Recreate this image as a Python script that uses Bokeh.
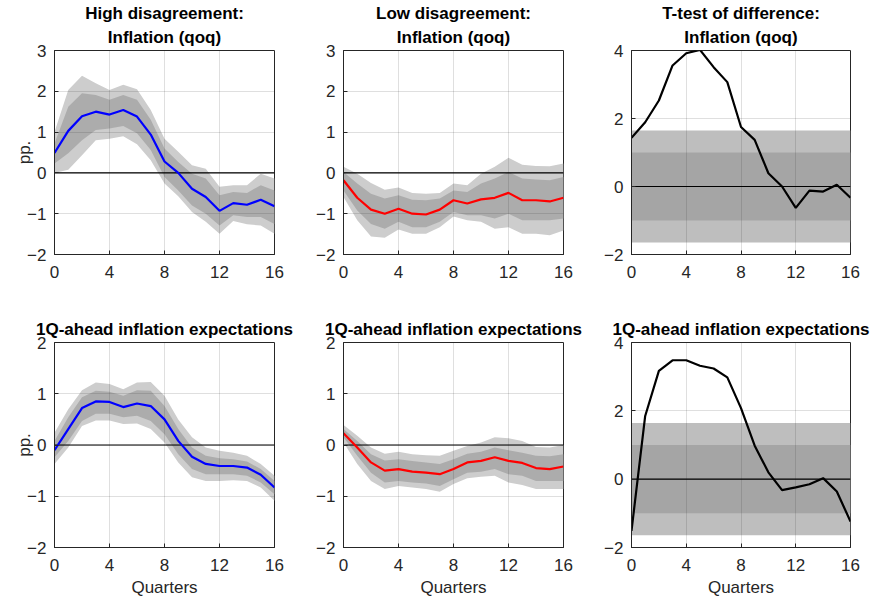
from bokeh.plotting import figure
from bokeh.layouts import column, row
from bokeh.models import Title, Span, BoxAnnotation, FixedTicker
from bokeh.embed import file_html
from bokeh.resources import INLINE

# horizon (quarters)
quarters = list(range(17))

# high disagreement: inflation (qoq)
hi_inf = [0.49, 1.03, 1.39, 1.50, 1.43, 1.54, 1.38, 0.94, 0.28, 0.00, -0.39, -0.59, -0.93, -0.74, -0.78, -0.66, -0.82]
hi_inf_o_up = [1.00, 2.03, 2.38, 2.20, 2.03, 2.16, 2.05, 1.54, 0.84, 0.52, 0.19, 0.10, -0.34, -0.30, -0.30, -0.02, -0.14]
hi_inf_i_up = [0.72, 1.62, 1.95, 1.91, 1.79, 1.91, 1.79, 1.30, 0.60, 0.27, -0.02, -0.14, -0.55, -0.47, -0.49, -0.30, -0.43]
hi_inf_i_lo = [0.23, 0.48, 0.80, 1.05, 1.09, 1.15, 0.97, 0.56, -0.10, -0.43, -0.80, -1.00, -1.29, -1.04, -1.08, -1.08, -1.25]
hi_inf_o_lo = [0.00, 0.08, 0.43, 0.80, 0.84, 0.90, 0.70, 0.31, -0.26, -0.57, -0.96, -1.20, -1.49, -1.18, -1.26, -1.29, -1.49]

# low disagreement: inflation (qoq)
lo_inf = [-0.18, -0.61, -0.90, -1.00, -0.88, -1.00, -1.02, -0.90, -0.67, -0.75, -0.65, -0.61, -0.49, -0.67, -0.67, -0.70, -0.61]
lo_inf_o_up = [0.15, -0.02, -0.25, -0.41, -0.36, -0.49, -0.51, -0.49, -0.26, -0.30, -0.02, 0.15, 0.37, 0.20, 0.17, 0.16, 0.23]
lo_inf_i_up = [0.02, -0.26, -0.51, -0.63, -0.55, -0.66, -0.67, -0.63, -0.43, -0.47, -0.26, -0.14, 0.02, -0.14, -0.16, -0.18, -0.10]
lo_inf_i_lo = [-0.43, -0.92, -1.25, -1.37, -1.20, -1.33, -1.33, -1.20, -0.96, -1.04, -1.04, -1.12, -1.00, -1.16, -1.16, -1.16, -1.12]
lo_inf_o_lo = [-0.59, -1.16, -1.56, -1.59, -1.39, -1.49, -1.49, -1.33, -1.07, -1.16, -1.20, -1.37, -1.33, -1.49, -1.49, -1.53, -1.41]

# t-test of difference: inflation
t_inf = [1.43, 1.89, 2.53, 3.56, 3.92, 4.02, 3.51, 3.07, 1.75, 1.37, 0.39, 0.00, -0.63, -0.12, -0.15, 0.05, -0.33]

# high disagreement: 1Q-ahead inflation expectations
hi_exp = [-0.10, 0.31, 0.72, 0.85, 0.84, 0.74, 0.81, 0.76, 0.50, 0.08, -0.23, -0.37, -0.41, -0.41, -0.44, -0.58, -0.83]
hi_exp_o_up = [0.24, 0.70, 1.07, 1.22, 1.19, 1.09, 1.22, 1.23, 0.96, 0.50, 0.15, -0.05, -0.11, -0.15, -0.21, -0.37, -0.60]
hi_exp_i_up = [0.08, 0.54, 0.93, 1.06, 1.04, 0.96, 1.07, 1.06, 0.76, 0.31, -0.05, -0.21, -0.26, -0.28, -0.32, -0.47, -0.70]
hi_exp_i_lo = [-0.24, 0.08, 0.47, 0.61, 0.61, 0.54, 0.57, 0.47, 0.21, -0.18, -0.47, -0.57, -0.57, -0.57, -0.60, -0.73, -0.96]
hi_exp_o_lo = [-0.37, -0.05, 0.37, 0.48, 0.48, 0.41, 0.42, 0.31, 0.05, -0.34, -0.63, -0.70, -0.70, -0.69, -0.70, -0.83, -1.09]

# low disagreement: 1Q-ahead inflation expectations
lo_exp = [0.23, -0.05, -0.34, -0.50, -0.47, -0.52, -0.54, -0.57, -0.47, -0.34, -0.31, -0.24, -0.31, -0.35, -0.45, -0.47, -0.42]
lo_exp_o_up = [0.39, 0.18, -0.05, -0.17, -0.13, -0.18, -0.20, -0.21, -0.11, -0.02, 0.05, 0.15, 0.13, 0.08, -0.04, -0.05, 0.00]
lo_exp_i_up = [0.31, 0.08, -0.18, -0.30, -0.28, -0.31, -0.34, -0.37, -0.28, -0.17, -0.13, -0.05, -0.10, -0.15, -0.21, -0.22, -0.18]
lo_exp_i_lo = [0.15, -0.21, -0.54, -0.73, -0.70, -0.73, -0.75, -0.80, -0.67, -0.54, -0.52, -0.47, -0.57, -0.60, -0.70, -0.70, -0.70]
lo_exp_o_lo = [0.05, -0.37, -0.70, -0.86, -0.80, -0.83, -0.86, -0.91, -0.76, -0.65, -0.62, -0.60, -0.73, -0.78, -0.86, -0.86, -0.86]

# t-test of difference: expectations
t_exp = [-1.51, 1.85, 3.17, 3.48, 3.48, 3.32, 3.24, 2.98, 2.08, 0.98, 0.20, -0.32, -0.24, -0.15, 0.03, -0.36, -1.24]

# critical values shown as shaded bands in the t-test panels
t_crit_outer = 1.645
t_crit_inner = 1.0

x_ticks = [0, 4, 8, 12, 16]

FONT = "Liberation Sans"
AX = "#262626"


def base_fig(width, height, left, right, top, bottom, y_range, y_ticks, titles, ylabel=None, xlabel=None):
    p = figure(width=width, height=height, x_range=(0, 16), y_range=y_range,
               output_backend="svg", toolbar_location=None,
               min_border_left=left, min_border_right=right,
               min_border_top=top, min_border_bottom=bottom)
    p.title.text = ""
    p.outline_line_color = AX
    p.outline_line_width = 1

    for ax in (p.xaxis[0], p.yaxis[0]):
        ax.axis_line_color = AX
        ax.major_tick_line_color = AX
        ax.major_tick_in = 4
        ax.major_tick_out = 0
        ax.minor_tick_line_color = None
        ax.major_label_text_font = FONT
        ax.major_label_text_font_size = "17px"
        ax.major_label_text_color = AX
        ax.axis_label_text_font = FONT
        ax.axis_label_text_font_size = "17px"
        ax.axis_label_text_font_style = "normal"
        ax.axis_label_text_color = AX
    p.xaxis.ticker = FixedTicker(ticks=x_ticks)
    p.yaxis.ticker = FixedTicker(ticks=y_ticks)
    p.xaxis.major_label_standoff = 11
    p.yaxis.major_label_standoff = 8
    if ylabel:
        p.yaxis.axis_label = ylabel
        p.yaxis.axis_label_standoff = -10
    if xlabel:
        p.xaxis.axis_label = xlabel
        p.xaxis.axis_label_standoff = 4

    p.grid.grid_line_color = AX
    p.grid.grid_line_alpha = 0.15
    p.grid.level = "underlay"
    p.xgrid.ticker = FixedTicker(ticks=x_ticks)
    p.ygrid.ticker = FixedTicker(ticks=y_ticks)

    # titles: the bottom line is added first so the first line ends up on top
    for i, t in enumerate(reversed(titles)):
        p.add_layout(Title(text=t, align="center", text_font=FONT, text_font_size="17px",
                           text_font_style="bold", text_color="black",
                           standoff=7 if i == 0 else 0), "above")

    p.add_layout(Span(location=0, dimension="width", line_color="black", line_width=1.2, level="underlay"))
    return p


def irf_panel(p, mid, o_up, o_lo, i_up, i_lo, color):
    p.varea(x=quarters, y1=o_lo, y2=o_up, fill_color="#cdcdcd", level="image")
    p.varea(x=quarters, y1=i_lo, y2=i_up, fill_color="#acacac", level="image")
    p.line(quarters, mid, line_color=color, line_width=2.2)
    return p


def t_panel(p, tvals):
    p.add_layout(BoxAnnotation(bottom=-t_crit_outer, top=t_crit_outer, fill_color="#bebebe",
                               fill_alpha=1, line_color=None, level="image"))
    p.add_layout(BoxAnnotation(bottom=-t_crit_inner, top=t_crit_inner, fill_color="#a5a5a5",
                               fill_alpha=1, line_color=None, level="image"))
    p.line(quarters, tvals, line_color="black", line_width=2.2)
    return p


TOP_H, BOT_H = 290, 310
W1, W2, W3 = 297, 289, 286

f1 = base_fig(W1, TOP_H, 54, 23, 50, 36, (-2, 3), [-2, -1, 0, 1, 2, 3],
              ["High disagreement:", "Inflation (qoq)"], ylabel="pp.")
irf_panel(f1, hi_inf, hi_inf_o_up, hi_inf_o_lo, hi_inf_i_up, hi_inf_i_lo, "#0000ff")

f2 = base_fig(W2, TOP_H, 46, 23, 50, 36, (-2, 3), [-2, -1, 0, 1, 2, 3],
              ["Low disagreement:", "Inflation (qoq)"])
irf_panel(f2, lo_inf, lo_inf_o_up, lo_inf_o_lo, lo_inf_i_up, lo_inf_i_lo, "#ff0000")

f3 = base_fig(W3, TOP_H, 45, 22, 50, 36, (-2, 4), [-2, 0, 2, 4],
              ["T-test of difference:", "Inflation (qoq)"])
t_panel(f3, t_inf)

f4 = base_fig(W1, BOT_H, 54, 23, 52, 53, (-2, 2), [-2, -1, 0, 1, 2],
              ["1Q-ahead inflation expectations"], ylabel="pp.", xlabel="Quarters")
irf_panel(f4, hi_exp, hi_exp_o_up, hi_exp_o_lo, hi_exp_i_up, hi_exp_i_lo, "#0000ff")

f5 = base_fig(W2, BOT_H, 46, 23, 52, 53, (-2, 2), [-2, -1, 0, 1, 2],
              ["1Q-ahead inflation expectations"], xlabel="Quarters")
irf_panel(f5, lo_exp, lo_exp_o_up, lo_exp_o_lo, lo_exp_i_up, lo_exp_i_lo, "#ff0000")

f6 = base_fig(W3, BOT_H, 45, 22, 52, 53, (-2, 4), [-2, 0, 2, 4],
              ["1Q-ahead inflation expectations"], xlabel="Quarters")
t_panel(f6, t_exp)

layout = column(row(f1, f2, f3), row(f4, f5, f6))

open("out.html", "w").write(file_html(layout, INLINE))
